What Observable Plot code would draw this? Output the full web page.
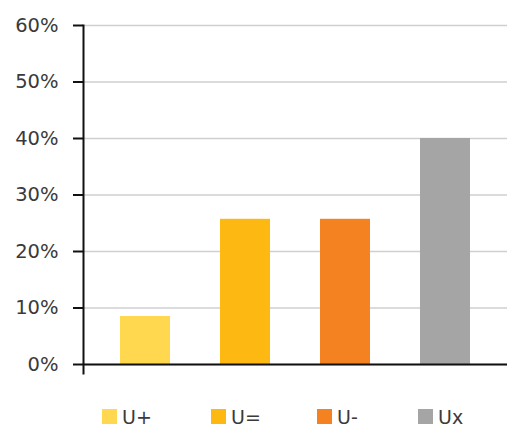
<!DOCTYPE html>
<html>
<head>
<meta charset="utf-8">
<script src="https://cdn.jsdelivr.net/npm/d3@7"></script>
<script src="https://cdn.jsdelivr.net/npm/@observablehq/plot@0.6"></script>
<style>
  html, body { margin: 0; padding: 0; background: #fff; }
  #chart { position: relative; width: 507px; height: 426px; overflow: hidden; font-family: "DejaVu Sans", sans-serif; }
  #legend { position: absolute; top: 409px; left: 0; width: 507px; height: 20px; }
  .item { position: absolute; top: 0; display: flex; align-items: center; height: 15px; font-size: 19px; color: #3a3a3a; }
  .sw { width: 15px; height: 15px; margin-right: 5px; flex: none; }
</style>
</head>
<body>
<div id="chart"><div id="legend"></div></div>
<script>
const categories = ["U+", "U=", "U-", "Ux"];
const values = [0.085, 0.257, 0.257, 0.40];
const colors = ["#FFD84F", "#FDB812", "#F58220", "#A5A5A5"];
const yTicks = [0, 0.1, 0.2, 0.3, 0.4, 0.5, 0.6];

const data = categories.map((c, i) => ({category: c, value: values[i]}));

const plot = Plot.plot({
  width: 507,
  height: 400,
  marginLeft: 83,
  marginRight: 0,
  marginTop: 25,
  marginBottom: 36,
  style: {fontFamily: "DejaVu Sans, sans-serif", fontSize: "19px", color: "#3a3a3a", background: "#fff"},
  x: {type: "band", domain: categories, range: [95, 495], paddingInner: 0.5, paddingOuter: 0.25, axis: null},
  y: {domain: [0, 0.6], ticks: yTicks, tickFormat: d3.format(".0%"), label: null},
  color: {domain: categories, range: colors},
  marks: [
    Plot.gridY(yTicks, {stroke: "#cfcfcf", strokeOpacity: 1, strokeWidth: 1.5}),
    Plot.barY(data, {x: "category", y: "value", fill: "category"}),
    Plot.axisY(yTicks, {label: null, tickSize: 10, tickPadding: 15, stroke: "#111", strokeWidth: 2, tickFormat: d3.format(".0%"), fill: "#3a3a3a", fontSize: 19.5}),
    Plot.ruleY([0], {stroke: "#111", strokeWidth: 2}),
    Plot.frame({anchor: "left", stroke: "#111", strokeWidth: 2, insetBottom: -9})
  ]
});
document.getElementById("chart").prepend(plot);

const lefts = [102, 211, 317, 418];
const legend = d3.select("#legend");
categories.forEach((c, i) => {
  const it = legend.append("div").attr("class", "item").style("left", lefts[i] + "px");
  it.append("div").attr("class", "sw").style("background", colors[i]);
  it.append("span").text(c);
});
</script>
</body>
</html>
